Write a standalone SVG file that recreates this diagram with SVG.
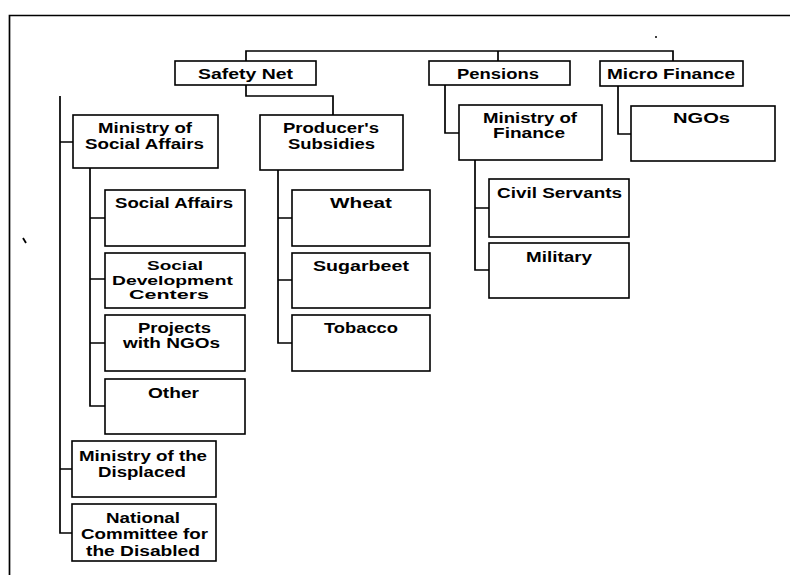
<svg xmlns="http://www.w3.org/2000/svg" width="790" height="575" viewBox="0 0 790 575">
<style>
.box{fill:#fff;stroke:#000;stroke-width:1.6}
.c{fill:none;stroke:#000;stroke-width:1.7}
text{font-family:"Liberation Sans",Arial,sans-serif;font-weight:bold;font-size:14.5px;fill:#000;text-anchor:middle}
.sm{font-size:13.5px}
</style>
<rect width="790" height="575" fill="#fff"/>
<path class="c" d="M790,15.5 H9.5 V575"/>
<circle cx="656" cy="37" r="1" fill="#000"/>
<path d="M23,238 L26,243" stroke="#000" stroke-width="1.8"/>
<g id="connectors">
<path class="c" d="M246,61 V51 H673 V61 M498,51 V61"/>
<path class="c" d="M246,85 V96 H333 V115 M60,96 V533 H72 M60,142 H73 M60,469 H72"/>
<path class="c" d="M90,168 V406 H105 M90,218 H105 M90,279 H105 M90,343 H105"/>
<path class="c" d="M278,170 V343 H292 M278,218 H292 M278,280 H292"/>
<path class="c" d="M445,85 V133 H459"/>
<path class="c" d="M618,86 V134 H631"/>
<path class="c" d="M475,160 V270 H489 M475,208 H489"/>
</g>
<g id="safety-net"><rect class="box" x="175" y="61" width="141" height="24"/><text x="245.5" y="79" textLength="95" lengthAdjust="spacingAndGlyphs">Safety Net</text></g>
<g id="pensions"><rect class="box" x="429" y="61" width="141" height="24"/><text x="498" y="78.5" textLength="82" lengthAdjust="spacingAndGlyphs">Pensions</text></g>
<g id="micro-finance"><rect class="box" x="600" y="61" width="143" height="25"/><text x="671" y="78.5" textLength="128" lengthAdjust="spacingAndGlyphs">Micro Finance</text></g>
<g id="ministry-social-affairs"><rect class="box" x="73" y="115" width="145" height="53"/><text x="145" y="132.5" textLength="94" lengthAdjust="spacingAndGlyphs">Ministry of</text><text x="144.5" y="148.5" textLength="119" lengthAdjust="spacingAndGlyphs">Social Affairs</text></g>
<g id="producers-subsidies"><rect class="box" x="260" y="115" width="143" height="55"/><text x="331" y="132.5" textLength="96" lengthAdjust="spacingAndGlyphs">Producer's</text><text x="331.5" y="148.5" textLength="87" lengthAdjust="spacingAndGlyphs">Subsidies</text></g>
<g id="ministry-finance"><rect class="box" x="459" y="105" width="143" height="55"/><text x="530" y="122.5" textLength="94" lengthAdjust="spacingAndGlyphs">Ministry of</text><text x="529" y="137.5" textLength="72" lengthAdjust="spacingAndGlyphs">Finance</text></g>
<g id="ngos"><rect class="box" x="631" y="106" width="144" height="55"/><text x="701.5" y="122.5" textLength="57" lengthAdjust="spacingAndGlyphs">NGOs</text></g>
<g id="social-affairs"><rect class="box" x="105" y="190" width="140" height="56"/><text x="174" y="207.5" textLength="118" lengthAdjust="spacingAndGlyphs">Social Affairs</text></g>
<g id="social-development-centers"><rect class="box" x="105" y="253" width="140" height="55"/><text class="sm" x="175" y="270" textLength="56" lengthAdjust="spacingAndGlyphs">Social</text><text class="sm" x="172.5" y="284.5" textLength="121" lengthAdjust="spacingAndGlyphs">Development</text><text class="sm" x="169" y="299" textLength="80" lengthAdjust="spacingAndGlyphs">Centers</text></g>
<g id="projects-ngos"><rect class="box" x="105" y="315" width="140" height="56"/><text x="174.5" y="332.5" textLength="73" lengthAdjust="spacingAndGlyphs">Projects</text><text x="171.5" y="347.5" textLength="97" lengthAdjust="spacingAndGlyphs">with NGOs</text></g>
<g id="other"><rect class="box" x="105" y="379" width="140" height="55"/><text x="173.5" y="397.5" textLength="51" lengthAdjust="spacingAndGlyphs">Other</text></g>
<g id="wheat"><rect class="box" x="292" y="190" width="138" height="56"/><text x="361" y="207.5" textLength="62" lengthAdjust="spacingAndGlyphs">Wheat</text></g>
<g id="sugarbeet"><rect class="box" x="292" y="253" width="138" height="55"/><text x="361" y="270.5" textLength="96" lengthAdjust="spacingAndGlyphs">Sugarbeet</text></g>
<g id="tobacco"><rect class="box" x="292" y="315" width="138" height="56"/><text x="361" y="332.5" textLength="74" lengthAdjust="spacingAndGlyphs">Tobacco</text></g>
<g id="ministry-displaced"><rect class="box" x="72" y="441" width="144" height="56"/><text x="143" y="460.5" textLength="128" lengthAdjust="spacingAndGlyphs">Ministry of the</text><text x="142" y="476.5" textLength="88" lengthAdjust="spacingAndGlyphs">Displaced</text></g>
<g id="national-committee"><rect class="box" x="72" y="504" width="144" height="57"/><text x="143" y="522.5" textLength="74" lengthAdjust="spacingAndGlyphs">National</text><text x="144.5" y="538.5" textLength="127" lengthAdjust="spacingAndGlyphs">Committee for</text><text x="143" y="555.5" textLength="114" lengthAdjust="spacingAndGlyphs">the Disabled</text></g>
<g id="civil-servants"><rect class="box" x="489" y="179" width="140" height="58"/><text x="559.5" y="197.5" textLength="125" lengthAdjust="spacingAndGlyphs">Civil Servants</text></g>
<g id="military"><rect class="box" x="489" y="243" width="140" height="55"/><text x="559" y="261.5" textLength="66" lengthAdjust="spacingAndGlyphs">Military</text></g>
</svg>
